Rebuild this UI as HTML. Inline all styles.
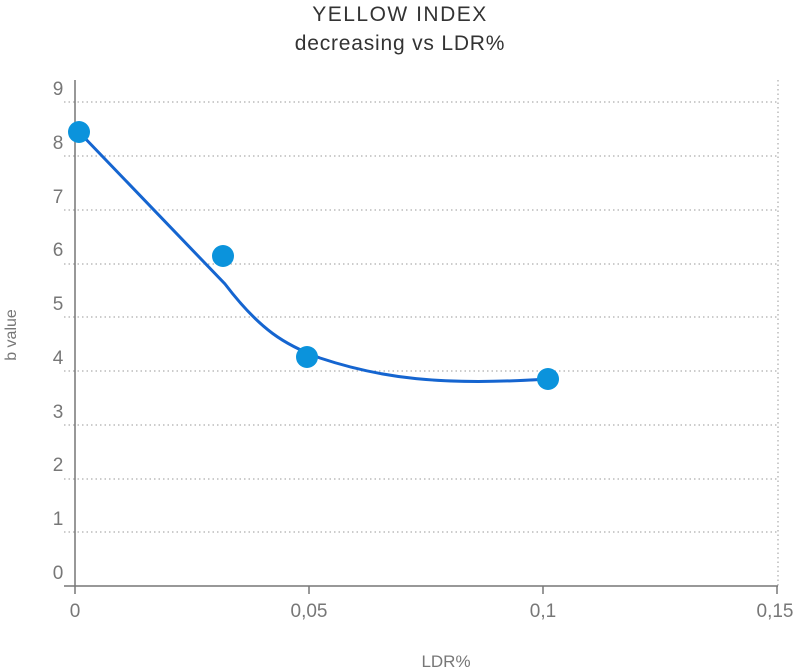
<!DOCTYPE html>
<html><head><style>body{margin:0;background:#fff}svg{display:block}text{font-family:"Liberation Sans",sans-serif;fill:#777}</style></head><body>
<svg width="800" height="671" viewBox="0 0 800 671">
<text x="400" y="21" text-anchor="middle" style="font-size:21px;fill:#333;letter-spacing:1.5px">YELLOW INDEX</text>
<text x="400" y="50" text-anchor="middle" style="font-size:21px;fill:#333;letter-spacing:0.8px">decreasing vs LDR%</text>
<g stroke="#999" stroke-width="1" stroke-dasharray="1.5,3">
<line x1="64" y1="102" x2="778" y2="102"/><line x1="64" y1="156" x2="778" y2="156"/>
<line x1="64" y1="210" x2="778" y2="210"/><line x1="64" y1="264" x2="778" y2="264"/>
<line x1="64" y1="317" x2="778" y2="317"/><line x1="64" y1="371" x2="778" y2="371"/>
<line x1="64" y1="425" x2="778" y2="425"/><line x1="64" y1="479" x2="778" y2="479"/>
<line x1="64" y1="532" x2="778" y2="532"/>
<line x1="778" y1="80" x2="778" y2="586"/>
</g>
<g stroke="#777" stroke-width="1.5">
<line x1="75" y1="80" x2="75" y2="586"/><line x1="64" y1="586" x2="778" y2="586"/>
<line x1="75" y1="586" x2="75" y2="594"/><line x1="309" y1="586" x2="309" y2="594"/><line x1="543" y1="586" x2="543" y2="594"/><line x1="777" y1="586" x2="777" y2="594"/>
</g>
<g style="font-size:19px" text-anchor="middle">
<text x="58" y="95">9</text><text x="58" y="149">8</text><text x="58" y="203">7</text><text x="58" y="256">6</text><text x="58" y="310">5</text><text x="58" y="364">4</text><text x="58" y="418">3</text><text x="58" y="471">2</text><text x="58" y="525">1</text><text x="58" y="579">0</text>
<text x="75" y="617">0</text><text x="309" y="617">0,05</text><text x="543" y="617">0,1</text><text x="775" y="617">0,15</text>
<text x="446" y="667" style="font-size:17px">LDR%</text>
<text transform="translate(16,335) rotate(-90)" style="font-size:16px">b value</text>
</g>
<path d="M79,132 L225,284 C260,330 285,345 320,358 C380,378 440,386 548,379" fill="none" stroke="#1565d0" stroke-width="3"/>
<g fill="#0b93dc"><circle cx="79" cy="132" r="11"/><circle cx="223" cy="256" r="11"/><circle cx="307" cy="357" r="11"/><circle cx="548" cy="379" r="11"/></g>
</svg></body></html>
